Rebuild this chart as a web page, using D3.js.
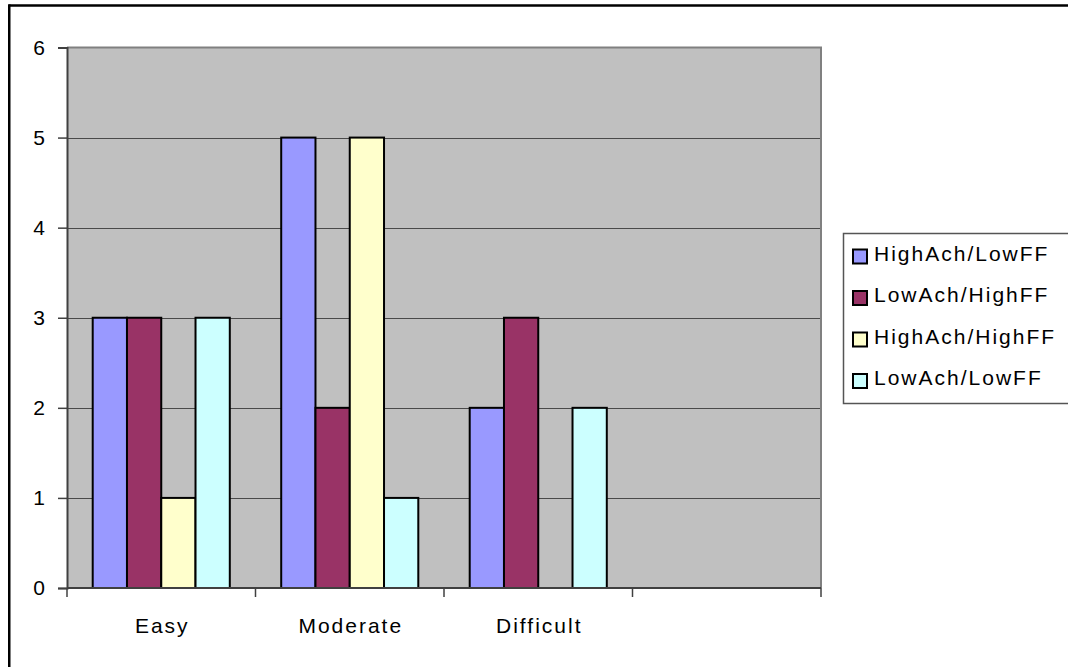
<!DOCTYPE html>
<html>
<head>
<meta charset="utf-8">
<script src="https://cdn.jsdelivr.net/npm/d3@7"></script>
<style>
  html, body { margin: 0; padding: 0; background: #fff; overflow: hidden; }
  svg { display: block; overflow: hidden; }
  text { font-family: "Liberation Sans", Arial, sans-serif; fill: #000; }
</style>
</head>
<body>
<svg id="chart" width="1068" height="667"></svg>
<script>
// Task difficulty groups along the category axis (last slot left empty)
const categories = ["Easy", "Moderate", "Difficult", ""];
// Achievement / family-factor groups
const seriesNames = ["HighAch/LowFF", "LowAch/HighFF", "HighAch/HighFF", "LowAch/LowFF"];
const seriesColors = ["#9999FF", "#993366", "#FFFFCC", "#CCFFFF"];
// Counts per category for each series (null = no entry)
const highAchLowFF  = [3, 5, 2, null];
const lowAchHighFF  = [3, 2, 3, null];
const highAchHighFF = [1, 5, 0, null];
const lowAchLowFF   = [3, 1, 2, null];
const yTicks = [0, 1, 2, 3, 4, 5, 6];

const seriesValues = [highAchLowFF, lowAchHighFF, highAchHighFF, lowAchLowFF];
const FONT = 21;

const svg = d3.select("#chart");

// outer chart frame: only the top and left edges
svg.append("line").attr("x1", 9.25).attr("x2", 1068).attr("y1", 5.5).attr("y2", 5.5)
  .attr("stroke", "#000").attr("stroke-width", 2.5);
svg.append("line").attr("x1", 9.25).attr("x2", 9.25).attr("y1", 4.25).attr("y2", 667)
  .attr("stroke", "#000").attr("stroke-width", 2.5);

const plot = { left: 67, right: 821, top: 47.5, bottom: 588 };

const x0 = d3.scaleBand().domain(categories.map((c, i) => i)).range([plot.left, plot.right]);
const bw = x0.bandwidth();
const barW = bw / 5.5;               // 150% gap width between clusters
const x1 = d3.scaleBand().domain(seriesNames)
  .range([barW * 0.75, barW * 0.75 + barW * 4]);
const y = d3.scaleLinear().domain([0, 6]).range([plot.bottom, plot.top]);

// plot background
svg.append("rect")
  .attr("x", plot.left).attr("y", plot.top)
  .attr("width", plot.right - plot.left).attr("height", plot.bottom - plot.top)
  .attr("fill", "#C0C0C0");

// gridlines
svg.append("g").selectAll("line")
  .data(yTicks.filter(t => t > 0 && t < 6))
  .join("line")
  .attr("x1", plot.left).attr("x2", plot.right)
  .attr("y1", d => Math.round(y(d)) + 0.5).attr("y2", d => Math.round(y(d)) + 0.5)
  .attr("stroke", "#4a4a4a").attr("stroke-width", 1);

// plot frame top / right
svg.append("path")
  .attr("d", `M${plot.left},${plot.top}H${plot.right}V${plot.bottom}`)
  .attr("fill", "none").attr("stroke", "#808080").attr("stroke-width", 2);

// bars
const rows = [];
categories.forEach((c, ci) => {
  seriesNames.forEach((s, si) => {
    const v = seriesValues[si][ci];
    if (v !== null) rows.push({ ci, s, si, v });
  });
});
svg.append("g").selectAll("rect")
  .data(rows)
  .join("rect")
  .attr("x", d => x0(d.ci) + x1(d.s))
  .attr("y", d => y(d.v))
  .attr("width", x1.bandwidth())
  .attr("height", d => y(0) - y(d.v))
  .attr("fill", d => seriesColors[d.si])
  .attr("stroke", "#000").attr("stroke-width", 2);

// y axis
const yAxis = d3.axisLeft(y).tickValues(yTicks).tickSize(9).tickPadding(13).tickFormat(d3.format("d"));
const gy = svg.append("g").attr("transform", `translate(${plot.left},0)`).call(yAxis);
gy.select(".domain").attr("stroke", "#404040").attr("stroke-width", 2);
gy.selectAll(".tick line").attr("stroke", "#404040").attr("stroke-width", 1.5);
gy.selectAll(".tick text").attr("font-size", FONT).attr("font-family", "Liberation Sans, Arial, sans-serif").attr("fill", "#000");

// x axis with ticks at band boundaries
const gx = svg.append("g").attr("transform", `translate(0,${plot.bottom})`);
gx.append("line").attr("x1", plot.left).attr("x2", plot.right)
  .attr("y1", 0).attr("y2", 0).attr("stroke", "#404040").attr("stroke-width", 2);
const bounds = categories.map((c, i) => x0(i)).concat([plot.right]);
gx.selectAll("line.tk").data(bounds).join("line").attr("class", "tk")
  .attr("x1", d => d).attr("x2", d => d).attr("y1", 0).attr("y2", 9)
  .attr("stroke", "#404040").attr("stroke-width", 1.5);
gx.selectAll("text").data(categories).join("text")
  .attr("x", (d, i) => x0(i) + bw / 2 + 1)
  .attr("y", 45)
  .attr("text-anchor", "middle")
  .attr("font-size", FONT)
  .attr("letter-spacing", "2px")
  .text(d => d);

// legend
const lg = svg.append("g");
lg.append("rect").attr("x", 843.5).attr("y", 233.5).attr("width", 300).attr("height", 170)
  .attr("fill", "#fff").attr("stroke", "#555").attr("stroke-width", 1.5);
const items = lg.selectAll("g.item").data(seriesNames).join("g").attr("class", "item")
  .attr("transform", (d, i) => `translate(0,${260.5 + i * 41.5})`);
items.append("rect").attr("x", 853).attr("y", -11).attr("width", 14).attr("height", 14)
  .attr("fill", (d, i) => seriesColors[i]).attr("stroke", "#000").attr("stroke-width", 2);
items.append("text").attr("x", 874).attr("y", 0)
  .attr("font-size", FONT).attr("letter-spacing", "2px")
  .text(d => d);
</script>
</body>
</html>
